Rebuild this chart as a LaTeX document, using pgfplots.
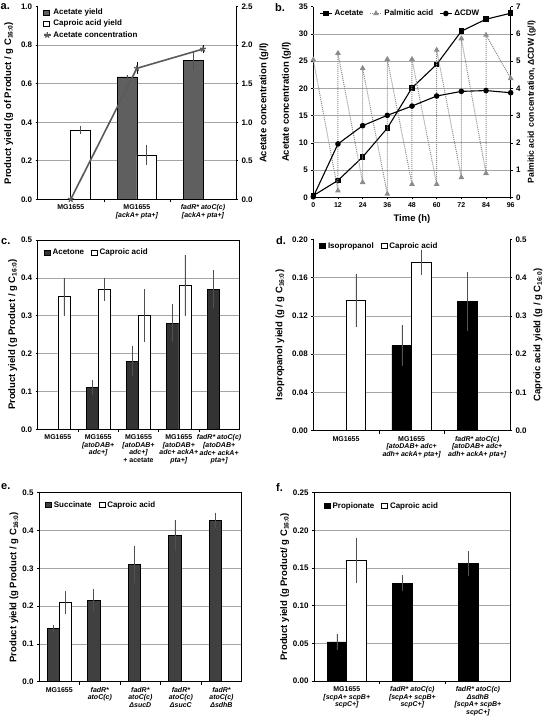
\documentclass[border=0pt]{standalone}
\usepackage{fontspec}
\setmainfont{Liberation Sans}
\usepackage{pgfplots}
\pgfplotsset{compat=1.18}
\usetikzlibrary{plotmarks}
\definecolor{ga}{HTML}{5F5F5F}
\definecolor{gl}{HTML}{5A5A5A}
\definecolor{gc}{HTML}{333333}
\definecolor{ge}{HTML}{404040}
\definecolor{gp}{HTML}{8C8C8C}
\definecolor{gerr}{HTML}{505050}
\newcommand\gi[1]{{\itshape #1}}
\newcommand\tickfont{\bfseries\fontsize{8}{9}\selectfont}
\newcommand\xtfont{\bfseries\fontsize{7}{7.6}\selectfont}
\newcommand\labfont{\bfseries\fontsize{9.5}{10.5}\selectfont}
\newcommand\legfont{\bfseries\fontsize{8}{9.2}\selectfont}
\pgfplotsset{
  pnl/.style={
    scale only axis, anchor=south west,
    tick label style={font=\tickfont},
    xticklabel style={align=center, font=\xtfont},
    label style={font=\labfont},
    /pgf/number format/assume math mode=true,
    tick align=outside,
    major tick length=2pt, minor tick length=3pt,
    axis line style={line width=0.8pt},
    every tick/.style={black, line width=0.6pt},
    grid style={black!35, line width=0.7pt},
    legend style={draw=none, fill=none, font=\legfont, inner sep=0pt},
    legend cell align=left,
    xtick pos=bottom, ytick pos=left,
  },
  cat/.style={major x tick style={draw=none}},
  lft/.style={ylabel shift=-3pt},
  f1/.style={yticklabel style={/pgf/number format/.cd, fixed, fixed zerofill, precision=1}},
  f2/.style={yticklabel style={/pgf/number format/.cd, fixed, fixed zerofill, precision=2}},
  sqleg/.style={legend image code/.code={\draw[##1, line width=0.6pt] (0pt,-2.6pt) rectangle (6pt,2.6pt);}},
  shortline/.style={legend image code/.code={\draw[mark repeat=2,mark phase=2,##1] plot coordinates {(0pt,0pt) (6pt,0pt) (12pt,0pt)};}},
  shortA/.style={legend image code/.code={\draw[mark repeat=2,mark phase=2,##1] plot coordinates {(0pt,0pt) (3.5pt,0pt) (7pt,0pt)};}},
  bars/.style={ybar, bar width=0.3, bar shift=0pt, draw=black, line width=0.6pt, sqleg,
    error bars/y dir=both, error bars/y explicit,
    error bars/error mark options={mark size=0pt},
    error bars/error bar style={line width=0.6pt, gerr}},
  lineA/.style={gl, line width=1.6pt, mark=star, mark size=3pt, mark options={solid, line width=1.3pt}},
}
\begin{document}
\begin{tikzpicture}
\useasboundingbox (0,0) rectangle (548pt,720pt);

% ---------------- a ----------------
\begin{axis}[pnl, f1, lft, cat, at={(37.7pt,520.7pt)}, width=198.3pt, height=192.6pt,
  xmin=-0.5, xmax=2.5, ymin=0, ymax=1,
  axis y line*=left, axis x line*=bottom,
  xtick={0,1,2}, minor xtick={0.5,1.5},
  xticklabels={{MG1655},{MG1655\\\gi{[ackA+ pta+]}},{\gi{fadR* atoC(c)}\\\gi{[ackA+ pta+]}}},
  ytick={0,0.2,0.4,0.6,0.8,1},
  extra y ticks={0.2,0.4,0.6,0.8}, extra y tick labels={}, extra y tick style={grid=major},
  ylabel={Product yield (g of Product / g C\textsubscript{16:0})},
  legend style={at={(0.025,1.0)}, anchor=north west}]
\addplot[bars, fill=ga] coordinates {(0.85,0.635) +- (0,0.01) (1.85,0.72) +- (0,0.05)};
\addlegendentry{Acetate yield}
\addplot[bars, fill=white] coordinates {(0.15,0.36) +- (0,0.02) (1.15,0.23) +- (0,0.05)};
\addlegendentry{Caproic acid yield}
\addlegendimage{lineA, shortA}
\addlegendentry{Acetate concentration}
\end{axis}
\begin{axis}[pnl, f1, at={(37.7pt,520.7pt)}, width=198.3pt, height=192.6pt,
  xmin=-0.5, xmax=2.5, ymin=0, ymax=2.5,
  axis y line*=right, axis x line=none, ytick pos=right,
  ytick={0,0.5,1,1.5,2,2.5},
  ylabel={Acetate concentration (g/l)}]
\addplot[lineA, error bars/y dir=both, error bars/y explicit,
  error bars/error mark options={mark size=0pt}, error bars/error bar style={line width=0.6pt, black}]
  coordinates {(0,0) +- (0,0) (1,1.7) +- (0,0.08) (2,1.95) +- (0,0.05)};
\end{axis}

% ---------------- b ----------------
\begin{axis}[pnl, lft, at={(313.3pt,522.7pt)}, width=197.4pt, height=190.6pt,
  xmin=0, xmax=96, ymin=0, ymax=35,
  axis y line*=left, axis x line*=bottom,
  xtick={0,12,24,36,48,60,72,84,96}, ytick={0,5,10,15,20,25,30,35},
  extra y ticks={5,10,15,20,25,30}, extra y tick labels={}, extra y tick style={grid=major},
  xlabel={Time (h)}, ylabel={Acetate concentration (g/l)}]
\addplot[black, line width=1.1pt, mark=square*, mark size=2.2pt] coordinates {
(0,0.3) (12,3.1) (24,7.4) (36,12.7) (48,20.1) (60,24.4) (72,30.5) (84,32.7) (96,33.8)};
\end{axis}
\begin{axis}[pnl, at={(313.3pt,522.7pt)}, width=197.4pt, height=190.6pt,
  xmin=0, xmax=96, ymin=0, ymax=7,
  axis y line*=right, axis x line=none, ytick pos=right,
  ytick={0,1,2,3,4,5,6,7},
  ylabel={Palmitic acid\, concentration, ΔCDW (g/l)},
  ylabel style={font=\bfseries\fontsize{8.6}{9.5}\selectfont},
  legend columns=3, legend style={at={(0.03,0.995)}, anchor=north west,
    /tikz/every even column/.append style={column sep=4pt}}]
\addlegendimage{black, line width=1.1pt, mark=square*, mark size=2.2pt, shortline}
\addlegendentry{Acetate}
\addplot[gp, line width=1pt, densely dotted, mark=triangle*, mark size=2.4pt, mark options={solid}, shortline] coordinates {
(0,5.05) (12,0.24) (12,5.29) (24,0.55) (24,4.74) (36,0.12) (36,5.07) (48,0.48) (48,5.07)
(60,0.48) (60,5.41) (72,0.73) (72,5.83) (84,0.88) (84,5.96) (96,4.37)};
\addlegendentry{Palmitic acid}
\addplot[black, line width=1.1pt, mark=*, mark size=2.2pt, shortline] coordinates {
(0,0.02) (12,1.96) (24,2.63) (36,3.01) (48,3.35) (60,3.72) (72,3.89) (84,3.92) (96,3.84)};
\addlegendentry{ΔCDW}
\end{axis}

% ---------------- c ----------------
\begin{axis}[pnl, f1, lft, cat, at={(37.7pt,290.7pt)}, width=201.6pt, height=189.3pt,
  xmin=-0.5, xmax=4.5, ymin=0, ymax=0.5,
  xtick={0,1,2,3,4}, minor xtick={0.5,1.5,2.5,3.5},
  xticklabels={{MG1655},
    {MG1655\\\gi{[atoDAB+}\\\gi{adc+]}},
    {MG1655\\\gi{[atoDAB+}\\\gi{adc+]}\\{+ acetate}},
    {MG1655\\\gi{[atoDAB+}\\\gi{adc+ ackA+}\\\gi{pta+]}},
    {\gi{fadR* atoC(c)}\\\gi{[atoDAB+}\\\gi{adc+ ackA+}\\\gi{pta+]}}},
  ytick={0,0.1,0.2,0.3,0.4,0.5}, ymajorgrids,
  ylabel={Product yield (g Product / g C\textsubscript{16:0})},
  legend columns=2, legend style={at={(0.03,0.965)}, anchor=north west,
    /tikz/every even column/.append style={column sep=5pt}}]
\addplot[bars, fill=gc] coordinates {
(0.85,0.11) +- (0,0.02) (1.85,0.18) +- (0,0.04) (2.85,0.28) +- (0,0.05) (3.85,0.37) +- (0,0.05)};
\addlegendentry{Acetone}
\addplot[bars, fill=white] coordinates {
(0.15,0.35) +- (0,0.05) (1.15,0.37) +- (0,0.03) (2.15,0.30) +- (0,0.07) (3.15,0.38) +- (0,0.08)};
\addlegendentry{Caproic acid}
\end{axis}

% ---------------- d ----------------
\begin{axis}[pnl, f2, lft, cat, at={(313.3pt,289.3pt)}, width=196.7pt, height=191.4pt,
  xmin=-0.5, xmax=2.5, ymin=0, ymax=0.2,
  axis y line*=left, axis x line*=bottom,
  xtick={0,1,2}, minor xtick={0.5,1.5},
  xticklabels={{MG1655},
    {MG1655\\\gi{[atoDAB+ adc+}\\\gi{adh+ ackA+ pta+]}},
    {\gi{fadR* atoC(c)}\\\gi{[atoDAB+ adc+}\\\gi{adh+ ackA+ pta+]}}},
  ytick={0,0.04,0.08,0.12,0.16,0.2},
  extra y ticks={0.04,0.08,0.12,0.16}, extra y tick labels={}, extra y tick style={grid=major},
  ylabel={Isopropanol yield (g / g C\textsubscript{16:0})}]
\addplot[bars, fill=black] coordinates {(0.85,0.089) +- (0,0.021) (1.85,0.135) +- (0,0.031)};
\end{axis}
\begin{axis}[pnl, f1, at={(313.3pt,289.3pt)}, width=196.7pt, height=191.4pt,
  xmin=-0.5, xmax=2.5, ymin=0, ymax=0.5,
  axis y line*=right, axis x line=none, ytick pos=right,
  ytick={0,0.1,0.2,0.3,0.4,0.5},
  ylabel={Caproic acid yield (g / g C\textsubscript{16:0})},
  legend columns=2, legend style={at={(0.03,0.995)}, anchor=north west,
    /tikz/every even column/.append style={column sep=5pt}}]
\addlegendimage{sqleg, fill=black, draw=black}
\addlegendentry{Isopropanol}
\addplot[bars, fill=white] coordinates {(0.15,0.34) +- (0,0.07) (1.15,0.44) +- (0,0.033)};
\addlegendentry{Caproic acid}
\end{axis}

% ---------------- e ----------------
\begin{axis}[pnl, f1, lft, cat, at={(39pt,38.3pt)}, width=202.7pt, height=189pt,
  xmin=-0.5, xmax=4.5, ymin=0, ymax=0.5,
  xtick={0,1,2,3,4}, minor xtick={0.5,1.5,2.5,3.5},
  xticklabels={{MG1655},
    {\gi{fadR*}\\\gi{atoC(c)}},
    {\gi{fadR*}\\\gi{atoC(c)}\\\gi{ΔsucD}},
    {\gi{fadR*}\\\gi{atoC(c)}\\\gi{ΔsucC}},
    {\gi{fadR*}\\\gi{atoC(c)}\\\gi{ΔsdhB}}},
  ytick={0,0.1,0.2,0.3,0.4,0.5}, ymajorgrids,
  ylabel={Product yield (g Product / g C\textsubscript{16:0})},
  legend columns=2, legend style={at={(0.03,0.965)}, anchor=north west,
    /tikz/every even column/.append style={column sep=5pt}}]
\addplot[bars, fill=ge] coordinates {
(-0.15,0.14) +- (0,0.01) (0.85,0.215) +- (0,0.03) (1.85,0.31) +- (0,0.05) (2.85,0.387) +- (0,0.04) (3.85,0.427) +- (0,0.02)};
\addlegendentry{Succinate}
\addplot[bars, fill=white] coordinates {(0.15,0.21) +- (0,0.03)};
\addlegendentry{Caproic acid}
\end{axis}

% ---------------- f ----------------
\begin{axis}[pnl, f2, lft, cat, at={(314pt,39pt)}, width=196.7pt, height=188.3pt,
  xmin=-0.5, xmax=2.5, ymin=0, ymax=0.25,
  xtick={0,1,2}, minor xtick={0.5,1.5},
  xticklabels={{MG1655\\\gi{[scpA+ scpB+}\\\gi{scpC+]}},
    {\gi{fadR* atoC(c)}\\\gi{[scpA+ scpB+}\\\gi{scpC+]}},
    {\gi{fadR* atoC(c)}\\\gi{ΔsdhB}\\\gi{[scpA+ scpB+}\\\gi{scpC+]}}},
  ytick={0,0.05,0.1,0.15,0.2,0.25}, ymajorgrids,
  ylabel={Product yield (g Product/ g C\textsubscript{16:0})},
  legend columns=2, legend style={at={(0.05,0.96)}, anchor=north west,
    /tikz/every even column/.append style={column sep=5pt}}]
\addplot[bars, fill=black] coordinates {
(-0.15,0.052) +- (0,0.011) (0.85,0.13) +- (0,0.011) (1.85,0.156) +- (0,0.016)};
\addlegendentry{Propionate}
\addplot[bars, fill=white] coordinates {(0.15,0.16) +- (0,0.03)};
\addlegendentry{Caproic acid}
\end{axis}

% panel letters
\node[font=\bfseries\fontsize{11}{12}\selectfont, anchor=north west, inner sep=0pt] at (0.5pt,717pt) {a.};
\node[font=\bfseries\fontsize{11}{12}\selectfont, anchor=north west, inner sep=0pt] at (275pt,717pt) {b.};
\node[font=\bfseries\fontsize{11}{12}\selectfont, anchor=north west, inner sep=0pt] at (1pt,482pt) {c.};
\node[font=\bfseries\fontsize{11}{12}\selectfont, anchor=north west, inner sep=0pt] at (276pt,484pt) {d.};
\node[font=\bfseries\fontsize{11}{12}\selectfont, anchor=north west, inner sep=0pt] at (1pt,237pt) {e.};
\node[font=\bfseries\fontsize{11}{12}\selectfont, anchor=north west, inner sep=0pt] at (276pt,237pt) {f.};
\end{tikzpicture}
\end{document}
